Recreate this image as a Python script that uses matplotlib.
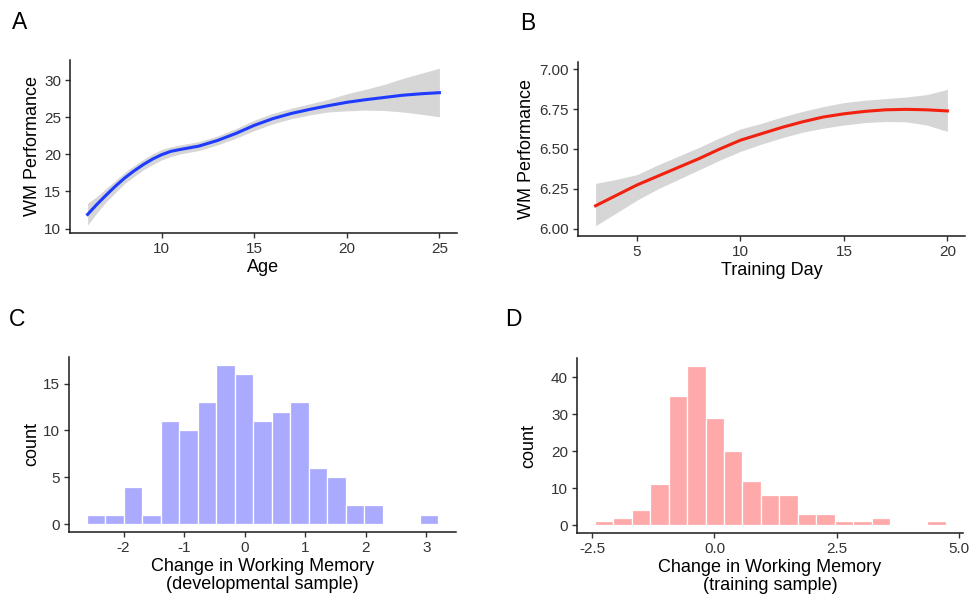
import matplotlib
matplotlib.use('agg')
import matplotlib.pyplot as plt
import numpy as np

plt.rcParams['font.family'] = ['Liberation Sans', 'DejaVu Sans']
plt.rcParams['axes.unicode_minus'] = False

# A: WM performance vs age (smooth fit + CI)
age = [6, 6.5, 7, 7.5, 8, 8.5, 9, 9.5, 10, 10.5, 11, 12, 13, 14, 15, 16, 17, 18,
       19, 20, 21, 22, 23, 24, 25]
age_fit = [11.9, 13.25, 14.5, 15.7, 16.8, 17.75, 18.6, 19.35, 19.95, 20.4, 20.65,
           21.1, 21.85, 22.8, 23.9, 24.8, 25.5, 26.05, 26.55, 27.0, 27.35, 27.65,
           27.95, 28.15, 28.3]
age_lo = [10.45, 12.1, 13.6, 14.85, 16.05, 17.0, 17.9, 18.6, 19.25, 19.7, 20.05,
          20.5, 21.25, 22.15, 23.2, 24.1, 24.8, 25.3, 25.7, 25.85, 25.95, 25.9,
          25.7, 25.4, 25.05]
age_hi = [13.4, 14.3, 15.4, 16.45, 17.55, 18.45, 19.3, 20.05, 20.65, 21.0, 21.25,
          21.7, 22.45, 23.45, 24.6, 25.5, 26.2, 26.8, 27.4, 28.15, 28.75, 29.4,
          30.2, 30.9, 31.6]

# B: WM performance vs training day
day = [3, 4, 5, 6, 7, 8, 9, 10, 11, 12, 13, 14, 15, 16, 17, 18, 19, 20]
day_fit = [6.145, 6.21, 6.275, 6.33, 6.385, 6.44, 6.50, 6.555, 6.595, 6.635,
           6.67, 6.70, 6.72, 6.735, 6.745, 6.748, 6.745, 6.738]
day_lo = [6.02, 6.10, 6.18, 6.25, 6.31, 6.37, 6.43, 6.485, 6.53, 6.57,
          6.605, 6.63, 6.65, 6.665, 6.672, 6.67, 6.65, 6.61]
day_hi = [6.285, 6.31, 6.34, 6.40, 6.455, 6.51, 6.57, 6.625, 6.66, 6.70,
          6.735, 6.765, 6.79, 6.805, 6.815, 6.825, 6.84, 6.873]

# C: histogram, developmental sample
dev_counts = [1, 1, 4, 1, 11, 10, 13, 17, 16, 11, 12, 13, 6, 5, 2, 2, 0, 0, 1]
dev_first_edge, dev_binwidth = -2.605, 0.3052

# D: histogram, training sample
train_counts = [1, 2, 4, 11, 35, 43, 29, 20, 12, 8, 8, 3, 3, 1, 1, 2, 0, 0, 1]
train_first_edge, train_binwidth = -2.447, 0.3774

W, H = 971, 596
fig = plt.figure(figsize=(W / 100, H / 100), dpi=100)

TICK_FS = 11
TITLE_FS = 13


def px_axes(left, top, right, bottom):
    return fig.add_axes([left / W, 1 - bottom / H, (right - left) / W, (bottom - top) / H])


def style(ax):
    for s in ('top', 'right'):
        ax.spines[s].set_visible(False)
    for s in ('left', 'bottom'):
        ax.spines[s].set_linewidth(1.1)
        ax.spines[s].set_color('#1a1a1a')
    ax.tick_params(length=3.5, width=1.0, color='#333333', labelsize=TICK_FS,
                   labelcolor='#333333', pad=3)


ribbon = '#d6d6d6'

axA = px_axes(70, 60, 457, 233)
axA.fill_between(age, age_lo, age_hi, color=ribbon, lw=0)
axA.plot(age, age_fit, color='#1f3bff', lw=2.2)
axA.set_xlim(5.05, 25.95)
axA.set_ylim(9.4, 32.7)
axA.set_xticks([10, 15, 20, 25])
axA.set_yticks([10, 15, 20, 25, 30])
axA.set_xlabel('Age', fontsize=TITLE_FS, labelpad=2)
axA.set_ylabel('WM Performance', fontsize=TITLE_FS, labelpad=2)
style(axA)

axB = px_axes(578, 62, 965, 236)
axB.fill_between(day, day_lo, day_hi, color=ribbon, lw=0)
axB.plot(day, day_fit, color='#f2200f', lw=2.2)
axB.set_xlim(2.15, 20.85)
axB.set_ylim(5.956, 7.044)
axB.set_xticks([5, 10, 15, 20])
axB.set_yticks([6.0, 6.25, 6.5, 6.75, 7.0])
axB.set_yticklabels(['%.2f' % v for v in [6.0, 6.25, 6.5, 6.75, 7.0]])
axB.set_xlabel('Training Day', fontsize=TITLE_FS, labelpad=2)
axB.set_ylabel('WM Performance', fontsize=TITLE_FS, labelpad=3)
style(axB)

axC = px_axes(69, 357, 456, 532)
dev_left = dev_first_edge + dev_binwidth * np.arange(len(dev_counts))
axC.bar(dev_left, dev_counts, width=dev_binwidth, align='edge',
        color='#aaaaff', edgecolor='white', linewidth=0.9)
axC.set_xlim(-2.9, 3.49)
axC.set_ylim(-0.85, 17.85)
axC.set_xticks([-2, -1, 0, 1, 2, 3])
axC.set_yticks([0, 5, 10, 15])
axC.set_xlabel('Change in Working Memory\n(developmental sample)', fontsize=TITLE_FS,
               labelpad=2, linespacing=1.1)
axC.set_ylabel('count', fontsize=TITLE_FS, labelpad=2)
style(axC)

axD = px_axes(577, 358, 963, 533)
train_left = train_first_edge + train_binwidth * np.arange(len(train_counts))
axD.bar(train_left, train_counts, width=train_binwidth, align='edge',
        color='#ffaaaa', edgecolor='white', linewidth=0.9)
axD.set_xlim(-2.81, 5.08)
axD.set_ylim(-2.15, 45.15)
axD.set_xticks([-2.5, 0.0, 2.5, 5.0])
axD.set_xticklabels(['-2.5', '0.0', '2.5', '5.0'])
axD.set_yticks([0, 10, 20, 30, 40])
axD.set_xlabel('Change in Working Memory\n(training sample)', fontsize=TITLE_FS,
               labelpad=2, linespacing=1.1)
axD.set_ylabel('count', fontsize=TITLE_FS, labelpad=10)
style(axD)

for lab, x, y in [('A', 12, 29), ('B', 520, 30), ('C', 9, 326), ('D', 505, 326)]:
    fig.text(x / W, 1 - y / H, lab, fontsize=16.5, va='baseline', ha='left')

fig.savefig('out.png', dpi=100)
